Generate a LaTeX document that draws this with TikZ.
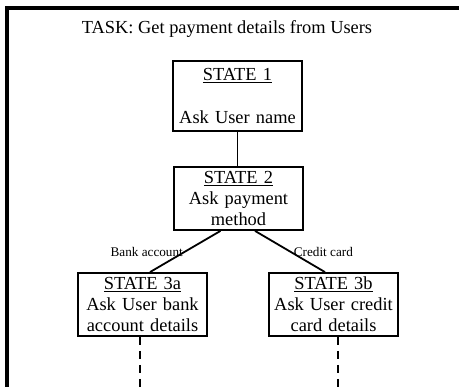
\documentclass[tikz,border=0pt]{standalone}
\usepackage{fontspec}
\setmainfont{Liberation Serif}
\usetikzlibrary{positioning, calc}

\begin{document}
\begin{tikzpicture}[
  x=1pt, y=-1pt,
  statebox/.style={draw, line width=1.8pt, minimum width=129pt, minimum height=63pt, text width=125pt, align=center, inner sep=2pt, font=\fontsize{18.4}{21}\selectfont},
  choice/.style={font=\fontsize{13.2}{15}\selectfont, inner sep=1.5pt},
  link/.style={line width=1.8pt},
  later/.style={line width=1.8pt, dash pattern=on 8pt off 6pt}
]
  \useasboundingbox (0,0) rectangle (459,387);
  \draw[line width=4pt] (7,389) -- (7,8) -- (461,8);
  \node[font=\fontsize{18.4}{21}\selectfont] (task) at (227,29) {TASK: Get payment details from Users};

  \node[statebox, minimum height=70pt] (s1) at (237.5,96) {\underline{STATE 1}\\[22pt]Ask User name};
  \node[statebox] (s2) at (238.5,198.5) {\underline{STATE 2}\\Ask payment\\method};
  \node[statebox] (s3a) at (142.5,304.5) {\underline{STATE 3a}\\Ask User bank\\account details};
  \node[statebox] (s3b) at (333.5,304.5) {\underline{STATE 3b}\\Ask User credit\\card details};

  \draw[link] (s1.south) -- (s1.south |- s2.north);
  \draw[link] ([xshift=-18pt]s2.south) -- node[choice, left] {Bank account} ([xshift=7.5pt]s3a.north);
  \draw[link] ([xshift=16.5pt]s2.south) -- node[choice, right, inner sep=3pt] {Credit card} ([xshift=-8.5pt]s3b.north);

  % to the next states
  \coordinate (enda) at (140,387);
  \coordinate (endb) at (338,387);
  \draw[later] (s3a.south -| enda) -- (enda);
  \draw[later] (s3b.south -| endb) -- (endb);
\end{tikzpicture}
\end{document}
